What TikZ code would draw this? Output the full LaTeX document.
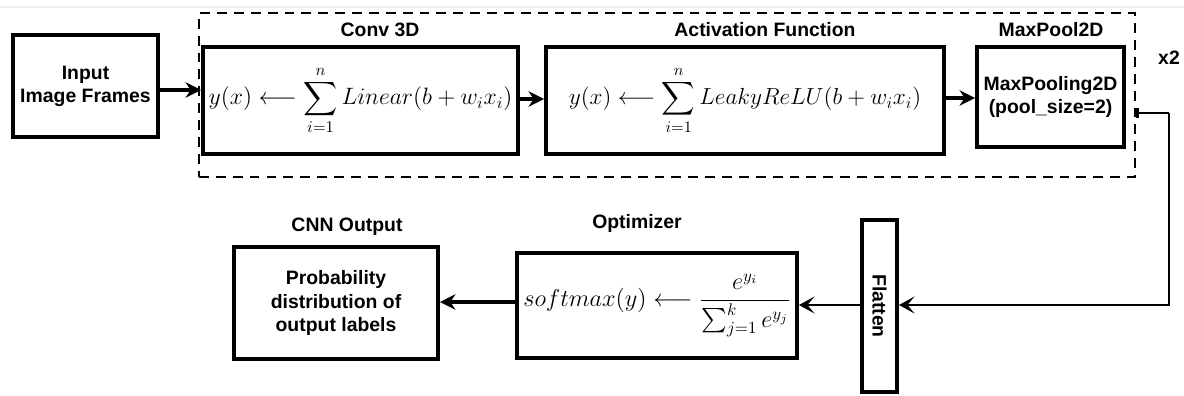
\documentclass[tikz,border=0pt]{standalone}
\usepackage{amsmath}
\usepackage{graphicx}
\usepackage{fontspec}
\setmainfont{Liberation Sans}
\usetikzlibrary{arrows.meta}
\tikzset{
  block/.style={draw, line width=2.8pt, align=center, inner sep=0pt},
  caption/.style={font=\bfseries\fontsize{13.8}{16.5}\selectfont},
  flow/.style={line width=2.6pt, -{Stealth[length=11pt,width=11pt]}},
  thinflow/.style={line width=1.8pt, -{Stealth[length=11pt,width=12pt,inset=5pt]}}
}
\newcommand{\eqbox}[2]{\scalebox{#1}{\Large$\displaystyle #2$}}
\begin{document}
\begin{tikzpicture}[x=0.025cm, y=-0.025cm]
  \useasboundingbox (0,0) rectangle (1184,395);
  \draw[gray!12, line width=1pt] (0,7) -- (1184,7);
  % repeated block
  \node[draw, line width=2.1pt, dash pattern=on 7pt off 5pt,
        minimum width=936*0.025cm, minimum height=164*0.025cm] (rep) at (667,95) {};
  \node[caption] (times) at (1169,58) {x2};
  % blocks
  \node[block, caption, minimum width=145*0.025cm, minimum height=102*0.025cm]
    (in) at (85.5,86) {Input\\Image Frames};
  \node[block, minimum width=315*0.025cm, minimum height=107*0.025cm]
    (conv) at (360.5,100.5) {\eqbox{1.17}{y(x)\longleftarrow\sum_{i=1}^{n}Linear(b+w_ix_i)}};
  \node[block, minimum width=398*0.025cm, minimum height=107*0.025cm]
    (act) at (745,100.5) {\eqbox{1.15}{y(x)\longleftarrow\sum_{i=1}^{n}LeakyReLU(b+w_ix_i)}};
  \node[block, caption, minimum width=147*0.025cm, minimum height=100*0.025cm]
    (pool) at (1050.5,97) {MaxPooling2D\\(pool\_size=2)};
  \node[block, caption, minimum width=35*0.025cm, minimum height=172*0.025cm]
    (flat) at (879.5,306) {\rotatebox{-90}{Flatten}};
  \node[block, minimum width=280*0.025cm, minimum height=105*0.025cm]
    (opt) at (657,305.5) {\eqbox{1.2}{softmax(y)\longleftarrow\frac{e^{y_i}}{\sum_{j=1}^{k}e^{y_j}}}};
  \node[block, caption, minimum width=204*0.025cm, minimum height=112*0.025cm]
    (out) at (336,303) {Probability\\distribution of\\output labels};
  % titles
  \node[caption] (convt) at (380,30) {Conv 3D};
  \node[caption] (actt) at (765,30) {Activation Function};
  \node[caption] (poolt) at (1051,30) {MaxPool2D};
  \node[caption] (optt) at (637,223) {Optimizer};
  \node[caption] (outt) at (347,227) {CNN Output};
  % connectors
  \coordinate (loop) at (1169,113);
  \draw[flow] (in.east |- 0,90) -- (conv.west |- 0,90);
  \draw[flow] (conv.east |- 0,99) -- (act.west |- 0,99);
  \draw[flow] (act.east |- 0,98) -- (pool.west |- 0,98);
  \draw[line width=1.9pt, {Bar[width=7pt]}-] (rep.east |- loop) -- (loop);
  \draw[thinflow] (loop) |- (flat.east |- 0,305);
  \draw[thinflow] (flat.west |- 0,305) -- (opt.east |- 0,305);
  \draw[flow] (opt.west |- 0,302) -- (out.east |- 0,302);
\end{tikzpicture}
\end{document}
